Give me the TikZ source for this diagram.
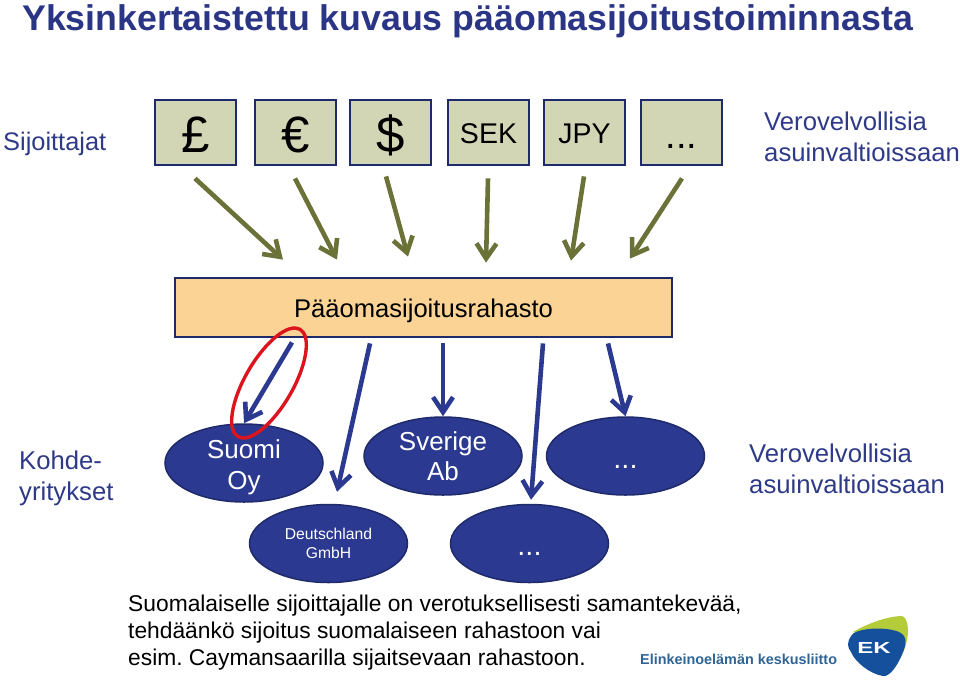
\documentclass[tikz,border=0pt]{standalone}
\usepackage{fontspec}
\setmainfont{Liberation Sans}
\frenchspacing
\usetikzlibrary{shapes.geometric,arrows.meta}
\definecolor{navy}{HTML}{1F2A6B}
\definecolor{titleblue}{HTML}{2B3585}
\definecolor{labelblue}{HTML}{2E3A87}
\definecolor{boxfill}{HTML}{D3D6B5}
\definecolor{fundfill}{HTML}{FBD395}
\definecolor{ellfill}{HTML}{2B3990}
\definecolor{arrowgreen}{HTML}{6B7238}
\definecolor{logoblue}{HTML}{14509B}
\definecolor{logotext}{HTML}{2F6596}
\definecolor{logolime}{HTML}{B5CC3A}
\newcommand{\shiftedlines}[2]{\raisebox{#1}[0pt][0pt]{\parbox[c]{90pt}{\centering #2}}}
\tikzset{
  cur/.style={draw=navy,line width=2.8pt,fill=boxfill,minimum width=81pt,minimum height=65pt,inner sep=0pt,font=\fontsize{28.5}{30}\selectfont},
  bigsym/.style={font=\fontsize{51}{54}\selectfont},
  firm/.style={draw=navy,line width=1.5pt,fill=ellfill,ellipse,minimum width=158pt,minimum height=78pt,inner sep=0pt,text=white,align=center,font=\fontsize{26}{30}\selectfont},
  smallfirm/.style={firm,font=\fontsize{15.7}{18.5}\selectfont},
  side/.style={text=labelblue,align=left,font=\fontsize{25.7}{31}\selectfont,inner sep=0pt},
  garrow/.style={draw=arrowgreen,line width=4.6pt,-{Straight Barb[length=15pt,width=20pt,line width=4.6pt]}},
  barrow/.style={draw=ellfill,line width=4.6pt,-{Straight Barb[length=15pt,width=20pt,line width=4.6pt]}},
}
\begin{document}
\begin{tikzpicture}[x=1pt,y=-1pt]
\useasboundingbox (0,0) rectangle (960,689);
\node[anchor=west,inner sep=0pt,text=titleblue,font=\bfseries\fontsize{35.7}{40}\selectfont] (title) at (22,21) {Yksinkertaistettu kuvaus pääomasijoitustoiminnasta};
\node[side,anchor=west,font=\fontsize{25.4}{31}\selectfont] (investors) at (3,144) {Sijoittajat};
\node[cur,bigsym] (gbp) at (195.5,132.5) {\rule{0pt}{39pt}£};
\node[cur,bigsym] (eur) at (295.5,132.5) {\rule{0pt}{40pt}€};
\node[cur,bigsym] (usd) at (390.5,132.5) {\rule{0pt}{43pt}\$};
\node[cur] (sek) at (488.5,132.5) {\rule{0pt}{23pt}SEK};
\node[cur] (jpy) at (584.5,132.5) {\rule{0pt}{23pt}JPY};
\node[cur,font=\fontsize{38}{44}\selectfont] (more) at (681.5,132.5) {\rule{0pt}{31pt}...};
\node[side,anchor=west] (tax1) at (764,137) {Verovelvollisia\\asuinvaltioissaan};
\node[draw=navy,line width=2.8pt,fill=fundfill,minimum width=497pt,minimum height=59pt,inner sep=0pt,font=\fontsize{25.6}{30}\selectfont] (fund) at (423.5,307.5) {\rule{0pt}{25pt}Pääomasijoitusrahasto};
\node[side,anchor=west] (targets) at (19,478) {Kohde-\\yritykset};
\node[firm,font=\fontsize{26}{31}\selectfont] (fi) at (244,463) {\shiftedlines{-10.5pt}{Suomi\\Oy}};
\node[firm] (se) at (443,456) {Sverige\\Ab};
\node[firm,font=\fontsize{29}{31}\selectfont] (m1) at (625.5,456) {\rule{0pt}{24pt}...};
\node[smallfirm] (de) at (328.5,543.5) {Deutschland\\GmbH};
\node[firm,font=\fontsize{29}{31}\selectfont] (m2) at (529.5,543.5) {\rule{0pt}{24pt}...};
\node[side,anchor=west] (tax2) at (749,469) {Verovelvollisia\\asuinvaltioissaan};
\draw[garrow] ([shift={(-0.5,12)}]gbp.south) -- ([shift={(-140.5,-17)}]fund.north);
\draw[garrow] ([shift={(-0.5,12)}]eur.south) -- ([shift={(-86.5,-17)}]fund.north);
\draw[garrow] ([shift={(-4.5,10)}]usd.south) -- ([shift={(-15.5,-20)}]fund.north);
\draw[garrow] ([shift={(-0.5,12)}]sek.south) -- ([shift={(62.5,-14)}]fund.north);
\draw[garrow] ([shift={(-0.5,10)}]jpy.south) -- ([shift={(147.5,-16)}]fund.north);
\draw[garrow] ([shift={(0.5,12)}]more.south) -- ([shift={(206.5,-18)}]fund.north);
\draw[barrow] ([shift={(-131.5,4)}]fund.south) -- (fi.north);
\draw[barrow] ([shift={(-53.5,5)}]fund.south) -- ([shift={(8.5,-12)}]de.north);
\draw[barrow] ([shift={(19.5,5)}]fund.south) -- (se.north);
\draw[barrow] ([shift={(119.5,5)}]fund.south) -- ([shift={(1.5,-4)}]m2.north);
\draw[barrow] ([shift={(184.5,5)}]fund.south) -- (m1.north);
\node[draw={rgb,255:red,220;green,20;blue,30},line width=3.4pt,ellipse,rotate=60,minimum width=124pt,minimum height=48pt,inner sep=0pt] (mark) at (269,383) {};
\node[anchor=north west,inner sep=0pt,align=left,font=\fontsize{22.8}{27}\selectfont] (note) at (128,595) {Suomalaiselle sijoittajalle on verotuksellisesti samantekevää,\\tehdäänkö sijoitus suomalaiseen rahastoon vai\\esim. Caymansaarilla sijaitsevaan rahastoon.};
\node[anchor=west,inner sep=0pt,text=logotext,font=\bfseries\fontsize{14.4}{18}\selectfont] (org) at (640,659) {Elinkeinoelämän keskusliitto};
\fill[logolime] (853,632) .. controls (870,622) and (890,616) .. (902,616) .. controls (908,618) and (909,630) .. (907,640) .. controls (905,650) and (901,658) .. (897,663) -- (880,640) -- cycle;
\fill[logoblue] (851,636) .. controls (855,628) and (885,626) .. (899,632) .. controls (908,636) and (906,645) .. (903,652) .. controls (898,665) and (890,677) .. (883,676) .. controls (870,674) and (855,662) .. (851,652) .. controls (847,647) and (847,642) .. (851,636) -- cycle;
\node[text=white,inner sep=0pt,font=\bfseries\fontsize{16}{18}\selectfont] (ek) at (874,648) {\scalebox{1.5}[1]{EK}};
\end{tikzpicture}
\end{document}
